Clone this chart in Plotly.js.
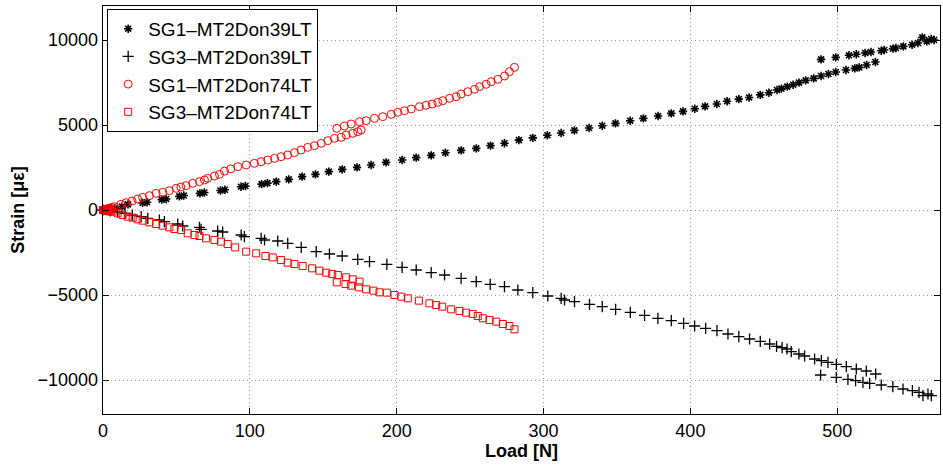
<!DOCTYPE html>
<html>
<head>
<meta charset="utf-8">
<script src="https://cdn.plot.ly/plotly-3.0.1.min.js"></script>
<style>html,body{margin:0;padding:0;background:#fff;}#chart{width:943px;height:465px;}</style>
</head>
<body>
<div id="chart"></div>
<script>
// Series names
const seriesNames = ["SG1\u2013MT2Don39LT", "SG3\u2013MT2Don39LT", "SG1\u2013MT2Don74LT", "SG3\u2013MT2Don74LT"];

// SG1-MT2Don39LT (asterisks)
const s1x = [0,3,8,13,17,27,30,40,43,52,55,66,69,80,83,94,97,108,112,118,
  126.5,135.6,144.7,153.8,162.9,173,182.6,192.8,203.7,213.3,
  223.5,233.2,243.9,254.2,263.9,273.4,283.2,292.7,302.6,312,
  321,331,340,349,359,368,378,387,395,403,
  410,418,425,433,440,447.6,453.5,459,462,466,
  470,474,478.5,484,489,494,499,506,512,515,
  520,526,
  489,499,508,513,519,523,530,532,538,540,
  545,551,555,558,561,564,566];
const s1y = [0,40,100,200,330,420,460,610,650,800,850,980,1030,1150,1190,1370,1410,1520,1580,1667,
  1804,1961,2098,2255,2392,2510,2647,2804,2941,3078,
  3216,3372,3510,3627,3784,3930,4108,4245,4400,4529,
  4686,4823,4960,5098,5254,5392,5529,5686,5804,5960,
  6098,6235,6400,6520,6620,6775,6900,7058,7137,7255,
  7372,7490,7627,7745,7882,8000,8117,8235,8333,8392,
  8529,8705,
  8862,8980,9100,9160,9235,9294,9370,9412,9490,9530,
  9627,9725,9823,10157,9921,10058,10000];

// SG3-MT2Don39LT (plus)
const s2x = [0,5,10,15,20,26,30.5,38.4,41.8,50.9,54.3,65.7,66.8,78.1,81.5,94.1,96.3,107.7,110,119,
  125.8,135,145.2,154.2,162.9,173.5,181.5,193.3,203.7,213.3,
  223.5,232.6,243.9,254.2,263.7,273.4,282.5,292.7,302.9,312,
  314.3,321.1,331.3,340,349.1,359.1,368.8,377.9,387,395.4,
  402.9,410.4,418.1,425.6,433,440.3,447.6,454,458.7,462.5,
  465.8,468.7,473.9,477.8,484.6,489.2,493.7,499.4,506.2,513,
  519.8,526.2,
  488.7,499.4,507.3,512.5,517.5,522.1,530,537.9,
  544.8,551.2,555.7,558.4,561.8,564.1];
const s2y = [0,-60,-130,-200,-300,-392,-490,-588,-686,-824,-941,-1020,-1137,-1235,-1294,-1470,-1570,-1667,-1765,-1823,
  -1961,-2200,-2451,-2588,-2706,-2902,-3039,-3196,-3372,-3529,
  -3686,-3823,-4019,-4215,-4372,-4509,-4706,-4862,-5058,-5196,
  -5294,-5392,-5549,-5686,-5843,-6019,-6196,-6372,-6509,-6666,
  -6823,-6960,-7098,-7294,-7450,-7588,-7725,-7882,-8020,-8098,
  -8176,-8333,-8470,-8588,-8764,-8862,-8960,-9078,-9215,-9352,
  -9470,-9647,
  -9705,-9843,-9960,-10040,-10137,-10196,-10294,-10392,
  -10529,-10627,-10725,-10921,-10823,-10921];

// SG1-MT2Don74LT (circles)
const s3x = [0,0.3,0.6,1,1.3,1.6,2,2.3,2.6,3,3.5,4,4.5,5,6,7.8,12.3,15.7,19.8,23.6,27,31.6,36.2,40.7,45.2,
  49.8,53,56.6,61.1,65.7,69.1,71.3,75.9,79.3,82.7,
  87,91.8,97.5,103.1,107.7,112.2,116.8,121.3,125.8,130.4,
  134.9,139.4,144,148.6,153.1,157.6,162.2,165.6,170.1,173.5,
  175.8,
  159.2,164.4,169,174.7,179.2,184.9,190.5,196.3,200.7,
  205.3,209.9,215.5,220,224.2,228,231.4,236,240.5,243.9,
  248.4,253,256.4,260.9,264.4,268.9,273.4,276.8,280.2];
const s3y = [0,5,10,20,25,30,40,45,50,60,70,80,90,100,150,196,333,431,529,647,745,843,980,1039,1137,
  1274,1350,1431,1568,1666,1765,1863,2000,2098,2290,
  2420,2549,2647,2745,2843,2941,3039,3137,3235,3372,
  3529,3686,3784,3921,4078,4215,4274,4411,4509,4607,
  4706,
  4803,4941,5058,5196,5254,5392,5490,5627,5745,
  5843,5941,6078,6160,6235,6333,6431,6568,6666,6823,
  6960,7098,7255,7392,7549,7686,7882,8137,8392];

// SG3-MT2Don74LT (squares)
const s4x = [0,0.3,0.6,1,1.3,1.6,2,2.3,2.6,3,3.5,4,5,6.6,10,13.4,16.8,20.2,23.6,27,31.6,36.2,40.7,45.2,
  48.6,53.2,57.7,62.3,65.7,70.2,75.9,80.4,84.9,90,
  97.5,104.3,110.6,115.6,121.3,125.8,130.4,136,142.4,147.4,
  152,156.1,159.9,165.6,170.1,174.7,
  159.2,165.1,169,174.2,179.2,184.2,188.3,193.3,198.5,203.1,
  207.6,215.1,222.3,226.9,231,237.1,242.8,247.3,251.8,255.2,
  258.7,263.2,267.8,272.3,276.8,280.2];
const s4y = [0,-5,-10,-15,-20,-25,-30,-35,-40,-50,-60,-70,-80,-98,-196,-294,-392,-451,-549,-627,-725,-823,-921,-1020,
  -1117,-1176,-1372,-1470,-1529,-1667,-1765,-1863,-2000,-2200,
  -2451,-2549,-2706,-2784,-2941,-3098,-3176,-3294,-3431,-3568,
  -3686,-3764,-3823,-3960,-4078,-4215,
  -4254,-4352,-4450,-4549,-4666,-4745,-4843,-4862,-5000,-5098,
  -5196,-5333,-5490,-5588,-5686,-5843,-5941,-6039,-6117,-6235,
  -6372,-6470,-6568,-6706,-6823,-7019];

// Axis ticks
const xTicks = [0,100,200,300,400,500];
const yTicks = [-10000,-5000,0,5000,10000];

const FONT = "Liberation Sans, Arial, sans-serif";

function mk(x, y, name, symbol, color, size, lw) {
  return {
    type: "scatter", mode: "markers", x: x, y: y, name: name, cliponaxis: false,
    marker: { symbol: symbol, size: size, color: color, line: { color: color, width: lw } }
  };
}

const traces = [
  mk(s1x, s1y, seriesNames[0], "asterisk-open", "#000000", 7, 1.6),
  mk(s2x, s2y, seriesNames[1], "cross-thin-open", "#000000", 8, 1.3),
  mk(s3x, s3y, seriesNames[2], "circle-open", "#ff0000", 8, 1),
  mk(s4x, s4y, seriesNames[3], "square-open", "#ff0000", 7, 1)
];

const axisCommon = {
  showline: true, linecolor: "#000", linewidth: 1.3, mirror: "ticks",
  ticks: "inside", ticklen: 6, tickcolor: "#000", tickwidth: 1,
  showgrid: true, gridcolor: "#a0a0a0", gridwidth: 1, griddash: "1px,3px",
  zeroline: false, tickfont: { family: FONT, size: 18, color: "#000" }
};

const layout = {
  width: 943, height: 465,
  margin: { l: 103, r: 3, t: 6, b: 51 },
  paper_bgcolor: "#fff", plot_bgcolor: "#fff",
  showlegend: true,
  legend: {
    x: 0.005, y: 0.993, xanchor: "left", yanchor: "top",
    bgcolor: "#fff", bordercolor: "#000", borderwidth: 1,
    font: { family: FONT, size: 19, color: "#000" }
  },
  xaxis: Object.assign({}, axisCommon, {
    range: [0, 570], tickvals: xTicks, ticktext: xTicks.map(String),
    title: { text: "<b>Load [N]</b>", font: { family: FONT, size: 18, color: "#000" }, standoff: 4 }
  }),
  yaxis: Object.assign({}, axisCommon, {
    range: [-12000, 12000], tickvals: yTicks, ticktext: yTicks.map(v => v < 0 ? "\u2212" + Math.abs(v) : String(v)),
    title: { text: "<b>Strain [\u03bc\u03b5]</b>", font: { family: FONT, size: 18, color: "#000" }, standoff: 8 }
  })
};

Plotly.newPlot("chart", traces, layout, { displayModeBar: false, staticPlot: true });
</script>
</body>
</html>
